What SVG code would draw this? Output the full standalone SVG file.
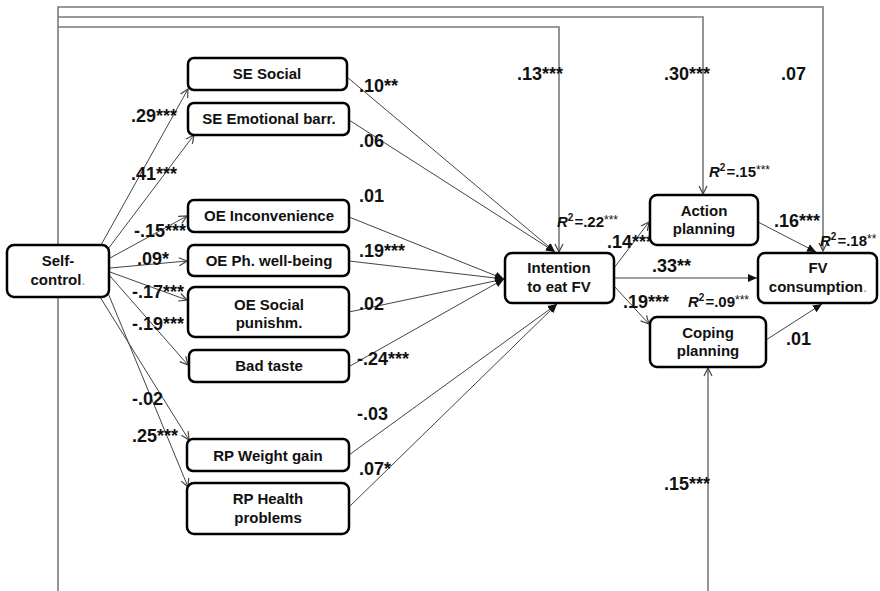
<svg xmlns="http://www.w3.org/2000/svg" width="880" height="591" viewBox="0 0 880 591">
  <style>
    .node rect { fill: #fff; stroke: #000; stroke-width: 2.5; }
    .node text { font-family: "Liberation Sans", Arial, sans-serif; font-size: 15px; font-weight: bold; fill: #111; text-anchor: middle; }
    .frame { fill: none; stroke: #7a7a7a; stroke-width: 1.6; }
    .edge { fill: none; stroke: #444; stroke-width: 1; }
    .coef { font-family: "Liberation Sans", Arial, sans-serif; font-size: 18px; font-weight: bold; fill: #111; }
    .r2 { font-family: "Liberation Sans", Arial, sans-serif; font-size: 15px; font-weight: bold; fill: #111; }
    .faint { fill: #999; font-weight: normal; }
  </style>
  <defs>
    <marker id="open" markerUnits="userSpaceOnUse" markerWidth="12" markerHeight="12" refX="9" refY="5" orient="auto">
      <path d="M1,1 L9,5 L1,9" fill="none" stroke="#444" stroke-width="1.2"/>
    </marker>
    <marker id="solid" markerUnits="userSpaceOnUse" markerWidth="12" markerHeight="12" refX="9" refY="4.5" orient="auto">
      <path d="M0,0.5 L9,4.5 L0,8.5 z" fill="#111"/>
    </marker>
  </defs>

  <!-- connectors -->
  <g id="connectors">
    <!-- outer feedback paths from self-control -->
    <path class="frame" d="M58,591 V7 H823 V251" marker-end="url(#open)"/>
    <path class="frame" d="M58,17 H703 V194" marker-end="url(#open)"/>
    <path class="frame" d="M58,27 H559 V252" marker-end="url(#open)"/>
    <path class="frame" d="M708,591 V368" marker-end="url(#open)"/>

    <!-- self-control to beliefs -->
    <path class="edge" d="M101,245 L188,89" marker-end="url(#open)"/>
    <path class="edge" d="M108,249 L194,135" marker-end="url(#open)"/>
    <path class="edge" d="M110,258 L187,216" marker-end="url(#open)"/>
    <path class="edge" d="M110,268 L187,261" marker-end="url(#open)"/>
    <path class="edge" d="M110,272 L187,300" marker-end="url(#open)"/>
    <path class="edge" d="M110,276 L188,365" marker-end="url(#open)"/>
    <path class="edge" d="M100,297 L189,440" marker-end="url(#open)"/>
    <path class="edge" d="M108,293 L188,487" marker-end="url(#open)"/>

    <!-- beliefs to intention -->
    <path class="edge" d="M347,77 L555,252" marker-end="url(#solid)"/>
    <path class="edge" d="M349,120 L555,252" marker-end="url(#solid)"/>
    <path class="edge" d="M349,217 L504,279" marker-end="url(#solid)"/>
    <path class="edge" d="M349,261 L504,279" marker-end="url(#solid)"/>
    <path class="edge" d="M349,312 L504,279" marker-end="url(#solid)"/>
    <path class="edge" d="M350,366 L504,279" marker-end="url(#solid)"/>
    <path class="edge" d="M349,455 L557,304" marker-end="url(#solid)"/>
    <path class="edge" d="M349,507 L557,304" marker-end="url(#solid)"/>

    <!-- intention, planning and consumption -->
    <path class="edge" d="M614,268 L649,222" marker-end="url(#open)"/>
    <path class="edge" d="M614,278 L757,278" marker-end="url(#solid)"/>
    <path class="edge" d="M614,286 L649,324" marker-end="url(#open)"/>
    <path class="edge" d="M758,222 L816,252" marker-end="url(#solid)"/>
    <path class="edge" d="M766,340 L822,304" marker-end="url(#solid)"/>
  </g>

  <!-- path coefficients -->
  <g id="labels">
    <text class="coef" x="131" y="122">.29***</text>
    <text class="coef" x="131" y="180">.41***</text>
    <text class="coef" x="134" y="237">-.15***</text>
    <text class="coef" x="137" y="265">.09*</text>
    <text class="coef" x="132" y="298">-.17***</text>
    <text class="coef" x="132" y="330">-.19***</text>
    <text class="coef" x="132" y="405">-.02</text>
    <text class="coef" x="132" y="442">.25***</text>

    <text class="coef" x="359" y="92">.10**</text>
    <text class="coef" x="359" y="147">.06</text>
    <text class="coef" x="359" y="202">.01</text>
    <text class="coef" x="359" y="257">.19***</text>
    <text class="coef" x="359" y="310">.02</text>
    <text class="coef" x="357" y="365">-.24***</text>
    <text class="coef" x="357" y="420">-.03</text>
    <text class="coef" x="359" y="475">.07*</text>

    <text class="coef" x="517" y="80">.13***</text>
    <text class="coef" x="664" y="80">.30***</text>
    <text class="coef" x="781" y="80">.07</text>
    <text class="coef" x="607" y="248">.14***</text>
    <text class="coef" x="652" y="272">.33**</text>
    <text class="coef" x="623" y="308">.19***</text>
    <text class="coef" x="774" y="227">.16***</text>
    <text class="coef" x="786" y="345">.01</text>
    <text class="coef" x="664" y="490">.15***</text>

    <text class="r2" x="557" y="227"><tspan font-style="italic">R</tspan><tspan font-size="10" dy="-6">2</tspan><tspan dx="1" dy="6">=.22</tspan><tspan font-size="12" font-weight="normal" dy="-3">***</tspan></text>
    <text class="r2" x="709" y="177"><tspan font-style="italic">R</tspan><tspan font-size="10" dy="-6">2</tspan><tspan dx="1" dy="6">=.15</tspan><tspan font-size="12" font-weight="normal" dy="-3">***</tspan></text>
    <text class="r2" x="688" y="307"><tspan font-style="italic">R</tspan><tspan font-size="10" dy="-6">2</tspan><tspan dx="1" dy="6">=.09</tspan><tspan font-size="12" font-weight="normal" dy="-3">***</tspan></text>
    <text class="r2" x="820" y="246"><tspan font-style="italic">R</tspan><tspan font-size="10" dy="-6">2</tspan><tspan dx="1" dy="6">=.18</tspan><tspan font-size="12" font-weight="normal" dy="-3">**</tspan></text>
  </g>

  <!-- nodes -->
  <g id="self-control" class="node">
    <rect x="7" y="245" width="102" height="52" rx="7"/>
    <text x="58" y="266">Self-</text>
    <text x="58" y="285">control<tspan class="faint">.</tspan></text>
  </g>
  <g id="se-social" class="node">
    <rect x="188" y="58" width="159" height="32" rx="6"/>
    <text x="267" y="79">SE Social</text>
  </g>
  <g id="se-emotional" class="node">
    <rect x="188" y="103" width="161" height="32" rx="6"/>
    <text x="269" y="124">SE Emotional barr.</text>
  </g>
  <g id="oe-inconvenience" class="node">
    <rect x="188" y="200" width="161" height="32" rx="6"/>
    <text x="269" y="221">OE Inconvenience</text>
  </g>
  <g id="oe-wellbeing" class="node">
    <rect x="188" y="245" width="161" height="31" rx="6"/>
    <text x="269" y="266">OE Ph. well-being</text>
  </g>
  <g id="oe-social-punishment" class="node">
    <rect x="188" y="287" width="161" height="50" rx="7"/>
    <text x="269" y="310">OE Social</text>
    <text x="269" y="328">punishm.</text>
  </g>
  <g id="bad-taste" class="node">
    <rect x="189" y="350" width="160" height="32" rx="6"/>
    <text x="269" y="371">Bad taste</text>
  </g>
  <g id="rp-weight" class="node">
    <rect x="187" y="439" width="162" height="32" rx="6"/>
    <text x="268" y="461">RP Weight gain</text>
  </g>
  <g id="rp-health" class="node">
    <rect x="187" y="483" width="162" height="51" rx="7"/>
    <text x="268" y="504">RP Health</text>
    <text x="268" y="523">problems</text>
  </g>
  <g id="intention" class="node">
    <rect x="505" y="253" width="109" height="50" rx="7"/>
    <text x="559" y="273">Intention</text>
    <text x="559" y="292">to eat FV</text>
  </g>
  <g id="action-planning" class="node">
    <rect x="650" y="195" width="108" height="50" rx="7"/>
    <text x="704" y="216">Action</text>
    <text x="704" y="234">planning</text>
  </g>
  <g id="coping-planning" class="node">
    <rect x="650" y="317" width="116" height="50" rx="7"/>
    <text x="708" y="338">Coping</text>
    <text x="708" y="356">planning</text>
  </g>
  <g id="fv-consumption" class="node">
    <rect x="758" y="253" width="119" height="50" rx="7"/>
    <text x="818" y="273">FV</text>
    <text x="818" y="292">consumption<tspan class="faint">.</tspan></text>
  </g>
</svg>
